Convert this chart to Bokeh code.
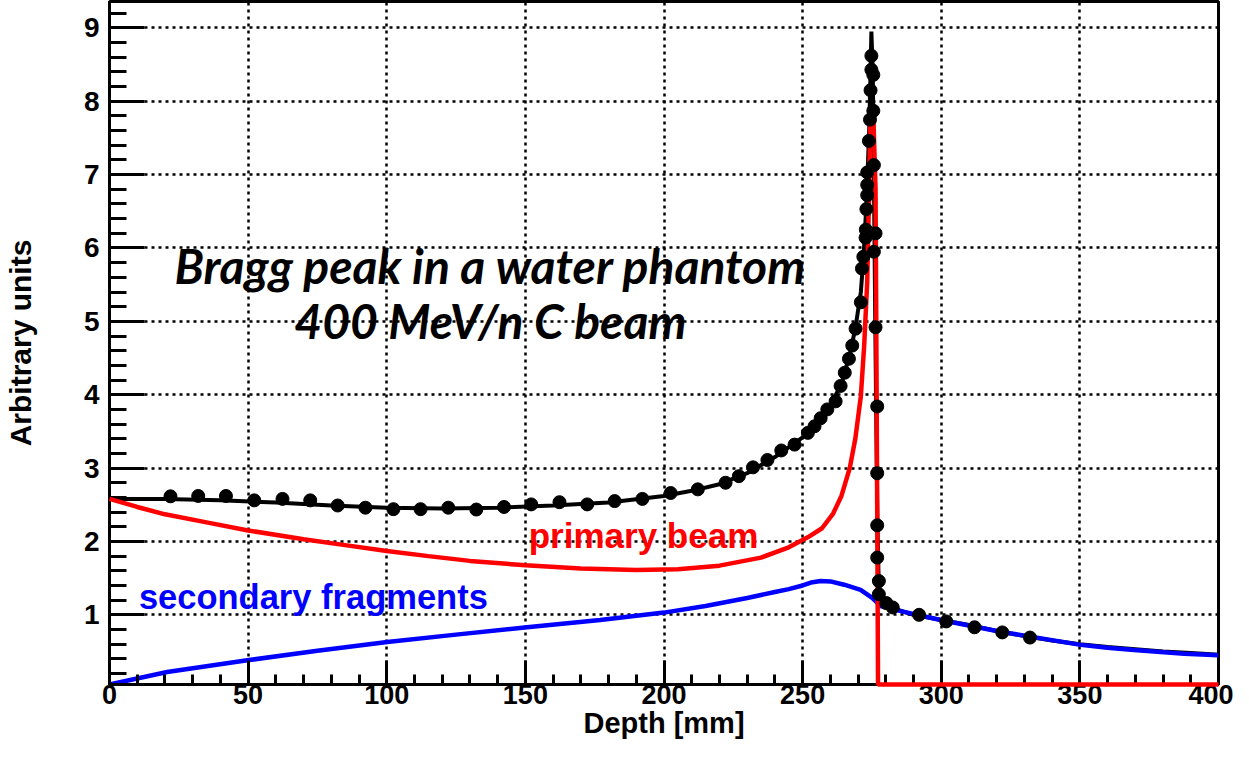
from bokeh.plotting import figure
from bokeh.models import FixedTicker, Range1d
from bokeh.core.properties import value
from bokeh.embed import file_html
from bokeh.resources import INLINE

# ---- data ----
x_ticks = [0, 50, 100, 150, 200, 250, 300, 350, 400]
y_ticks = [1, 2, 3, 4, 5, 6, 7, 8, 9]

total_depth = [0, 20, 40, 60, 80, 100, 120, 140, 160, 180, 200, 210, 220, 230, 240, 250, 255,
               260, 264, 267, 269, 271, 272, 273, 274, 274.5, 274.8, 275.3, 275.7, 276.2, 276.6,
               277, 277.4, 278, 280, 285, 290, 300, 310, 320, 330, 340, 350, 360, 370, 380, 390, 400]
total_dose = [2.58, 2.58, 2.56, 2.53, 2.49, 2.46, 2.45, 2.46, 2.49, 2.53, 2.62, 2.69, 2.78, 2.93,
              3.15, 3.42, 3.62, 3.85, 4.15, 4.55, 4.9, 5.4, 5.9, 6.6, 7.6, 8.4, 8.95, 8.4, 7.0,
              5.0, 3.5, 2.2, 1.5, 1.25, 1.14, 1.06, 1.0, 0.93, 0.86, 0.78, 0.71, 0.65, 0.6,
              0.56, 0.53, 0.5, 0.48, 0.455]

primary_depth = [0, 10, 20, 35, 50, 70, 85, 100, 115, 130, 150, 170, 190, 205, 220, 235, 245,
                 252, 257, 261, 264, 267, 269, 271, 272.2, 273.3, 274, 274.4, 275.5, 276.3,
                 276.7, 277.2, 400]
primary_dose = [2.58, 2.47, 2.37, 2.26, 2.15, 2.03, 1.95, 1.87, 1.80, 1.735, 1.675, 1.63, 1.61,
                1.62, 1.67, 1.78, 1.92, 2.06, 2.18, 2.38, 2.62, 3.0, 3.4, 3.98, 4.67, 5.54, 6.8,
                7.8, 7.8, 6.8, 4.0, 0.05, 0.05]

secondary_depth = [0, 20.8, 49.7, 75, 100.2, 125, 150.6, 177, 200, 215, 230, 240, 245, 250, 253,
                   256.5, 260, 265, 270.9, 275.1, 278.1, 285.4, 299.8, 321.4, 350.3, 359.9,
                   369.5, 387.6, 400]
secondary_dose = [0.05, 0.22, 0.38, 0.51, 0.63, 0.73, 0.83, 0.93, 1.03, 1.12, 1.23, 1.31, 1.35,
                  1.40, 1.44, 1.46, 1.455, 1.41, 1.34, 1.23, 1.12, 1.05, 0.93, 0.77, 0.59, 0.55,
                  0.52, 0.47, 0.45]

data_depth = [22, 32, 42, 52.2, 62.4, 72.4, 82.3, 92.3, 102.4, 112.2, 122.2, 132.3, 142.3, 152.1,
              162.3, 172.3, 182.2, 192.2, 202.4, 212.2, 222.2, 227, 232.1, 237.3, 242.3, 247.1,
              251.9, 254.3, 256.5, 258.9, 261.9, 263.7, 265.2, 266.7, 267.9, 269.1, 271.0, 271.4,
              271.9, 272.7, 272.8, 273.0, 273.3, 273.3, 273.3, 273.9, 274.3, 274.5, 274.8, 274.8,
              275.5, 275.5, 275.7, 275.7, 276.3, 276.3, 276.9, 276.9, 276.9, 276.9, 277.5, 277.5,
              280.2, 282.5, 292.0, 301.8, 312.0, 322.0, 332.0]
data_dose = [2.615, 2.62, 2.62, 2.56, 2.58, 2.56, 2.49, 2.46, 2.44, 2.44, 2.46, 2.435, 2.47,
             2.505, 2.535, 2.505, 2.55, 2.58, 2.66, 2.71, 2.80, 2.89, 3.01, 3.11, 3.24, 3.32,
             3.48, 3.57, 3.68, 3.80, 3.91, 4.12, 4.30, 4.49, 4.67, 4.90, 5.26, 5.72, 5.88, 6.14,
             6.25, 6.53, 6.72, 6.86, 7.03, 7.46, 7.75, 8.15, 8.43, 8.62, 8.36, 7.87, 7.13, 5.95,
             6.20, 4.92, 3.84, 2.93, 2.22, 1.78, 1.46, 1.28, 1.16, 1.10, 1.0, 0.91, 0.83, 0.76, 0.69]

title_lines = ["Bragg peak in a water phantom", "400 MeV/n C beam"]
x_title = "Depth [mm]"
y_title = "Arbitrary units"

# ---- figure ----
p = figure(width=1233, height=741, x_range=Range1d(0, 400), y_range=Range1d(0.05, 9.36),
           output_backend="svg", toolbar_location=None,
           min_border_left=101, min_border_right=15, min_border_top=1, min_border_bottom=10,
           x_axis_label=x_title, y_axis_label=y_title)

p.background_fill_color = "white"
p.border_fill_color = "white"
p.outline_line_color = "black"
p.outline_line_width = 3

minor_x = [v for v in range(0, 401, 10)]
minor_y = [round(0.2 * i, 2) for i in range(1, 47)]
p.xaxis.ticker = FixedTicker(ticks=x_ticks, minor_ticks=minor_x)
p.yaxis.ticker = FixedTicker(ticks=y_ticks, minor_ticks=minor_y)

for ax in (p.xaxis[0], p.yaxis[0]):
    ax.axis_line_width = 3
    ax.axis_line_color = "black"
    ax.major_tick_out = 0
    ax.minor_tick_out = 0
    ax.major_tick_line_width = 3
    ax.minor_tick_line_width = 3
    ax.major_tick_line_color = "black"
    ax.minor_tick_line_color = "black"
    ax.major_label_text_font = "Liberation Sans"
    ax.major_label_text_font_style = "bold"
    ax.major_label_text_color = "black"
    ax.axis_label_text_font = "Liberation Sans"
    ax.axis_label_text_font_style = "bold"
    ax.axis_label_text_color = "black"

p.yaxis.major_label_text_font_size = "28px"
p.yaxis.axis_label_text_font_size = "30px"
p.xaxis.major_label_text_font_size = "27px"
p.xaxis.axis_label_text_font_size = "29px"

p.xaxis.major_tick_in = 24
p.xaxis.minor_tick_in = 10
p.yaxis.major_tick_in = 35
p.yaxis.minor_tick_in = 17
p.xaxis.major_label_standoff = 0
p.xaxis.axis_label_standoff = 0
p.yaxis.major_label_standoff = 10
p.yaxis.axis_label_standoff = 44

for g in (p.xgrid[0], p.ygrid[0]):
    g.grid_line_color = "black"
    g.grid_line_width = 2.5
    g.grid_line_dash = "3 4"

# curves
p.line(total_depth, total_dose, line_color="black", line_width=4)
p.line(secondary_depth, secondary_dose, line_color="#0000ff", line_width=4.5)
p.line(primary_depth, primary_dose, line_color="#ff0000", line_width=4.5, level="overlay")
p.scatter(data_depth, data_dose, size=13, marker="circle", fill_color="black", line_color="black",
          level="overlay")

# annotations
p.text(x=[137.4], y=[5.76], text=[title_lines[0]], text_align="center", text_baseline="alphabetic",
       text_font=value("Lato"), text_font_style="bold italic", text_font_size="48px", text_color="black")
p.text(x=[137.4], y=[5.01], text=[title_lines[1]], text_align="center", text_baseline="alphabetic",
       text_font=value("Lato"), text_font_style="bold italic", text_font_size="48px", text_color="black")
p.text(x=[151.2], y=[2.075], text=["primary beam"], text_align="left", text_baseline="alphabetic",
       text_font=value("Liberation Sans"), text_font_style="bold", text_font_size="35px", text_color="#ff0000")
p.text(x=[10.6], y=[1.24], text=["secondary fragments"], text_align="left", text_baseline="alphabetic",
       text_font=value("Liberation Sans"), text_font_style="bold", text_font_size="34.5px", text_color="#0000ff")

open("out.html", "w").write(file_html(p, INLINE))
